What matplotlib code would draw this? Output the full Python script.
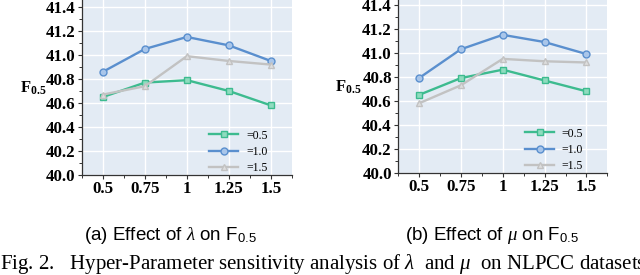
import numpy as np
import matplotlib.pyplot as plt

plt.rcParams['mathtext.fontset'] = 'custom'
plt.rcParams['mathtext.rm'] = 'Liberation Serif'
plt.rcParams['mathtext.it'] = 'Liberation Serif:italic'
plt.rcParams['mathtext.bf'] = 'Liberation Serif:bold'
plt.rcParams['mathtext.sf'] = 'Liberation Sans'

# values
x_labels = ['0.5', '0.75', '1', '1.25', '1.5']
series_names = ['=0.5', '=1.0', '=1.5']

lam_05 = [40.65, 40.77, 40.79, 40.70, 40.58]
lam_10 = [40.86, 41.05, 41.15, 41.08, 40.95]
lam_15 = [40.67, 40.74, 40.99, 40.95, 40.92]

mu_05 = [40.65, 40.79, 40.86, 40.77, 40.68]
mu_10 = [40.79, 41.03, 41.15, 41.09, 40.99]
mu_15 = [40.58, 40.73, 40.95, 40.93, 40.92]

colors = ['#3dbb8f', '#5a8fce', '#c2c2c2']
faces = ['#8fdcbf', '#a9c6ea', '#dedede']
markers = ['s', 'o', '^']

fig = plt.figure(figsize=(6.4, 2.75), dpi=100)
ax1 = fig.add_axes([0.128, 0.3636, 0.328, 0.6364])
ax2 = fig.add_axes([0.622, 0.3709, 0.327, 0.6291])


def draw(ax, data, ytop, lab_x):
    ax.set_facecolor('#e3ebf4')
    xs = np.arange(len(x_labels))
    for vals, c, fc, m, name in zip(data, colors, faces, markers, series_names):
        ax.plot(xs, vals, color=c, lw=1.7, marker=m, ms=5, mfc=fc, mec=c,
                mew=1.0, label=name)
    ax.set_xlim(-0.5, 4.5)
    ax.set_ylim(40.0, ytop)
    yt = np.arange(40.0, 41.41, 0.2)
    ax.set_yticks(yt)
    ax.set_yticks(yt[:-1] + 0.1, minor=True)
    ax.set_xticks(xs)
    ax.set_xticks(np.arange(-0.5, 4.51, 1.0), minor=True)
    ax.set_xticklabels(x_labels)
    ax.set_yticklabels(['%.1f' % v for v in yt])
    ax.grid(True, which='major', color='white', lw=1.0)
    ax.set_axisbelow(True)
    for s in ['top', 'right']:
        ax.spines[s].set_visible(False)
    for s in ['left', 'bottom']:
        ax.spines[s].set_color('#333333')
        ax.spines[s].set_linewidth(0.9)
    ax.tick_params(which='major', direction='out', length=3, width=0.8,
                   color='#333333', pad=1.5)
    ax.tick_params(which='minor', direction='out', length=2, width=0.7,
                   color='#333333')
    for lab in ax.get_xticklabels() + ax.get_yticklabels():
        lab.set_fontfamily('Liberation Serif')
        lab.set_fontweight('bold')
        lab.set_fontsize(12.2)
    ax.set_ylabel(r'$\mathbf{F_{0.5}}$', rotation=0, fontsize=12, ha='right',
                  va='center')
    ax.yaxis.set_label_coords(lab_x, 0.5)
    ax.legend(loc='lower right', frameon=False,
              prop={'family': 'Liberation Serif', 'size': 8.5},
              handlelength=2.45, handletextpad=0.65, labelspacing=0.35,
              borderpad=0.1, borderaxespad=0, bbox_to_anchor=(0.89, 0.0))


draw(ax1, [lam_05, lam_10, lam_15], 41.458, -0.17)
draw(ax2, [mu_05, mu_10, mu_15], 41.44, -0.175)

fig.text(0.266, 0.145, r'(a) Effect of $\lambda$ on F$_{\mathsf{0.5}}$',
         ha='center', va='center', family='Liberation Sans', fontsize=13.5)
fig.text(0.769, 0.145, r'(b) Effect of $\mu$ on F$_{\mathsf{0.5}}$',
         ha='center', va='center', family='Liberation Sans', fontsize=13.5)
fig.text(0.0, 0.04,
         r'Fig. 2.   Hyper-Parameter sensitivity analysis of $\lambda$  and $\mu$  on NLPCC datasets.',
         ha='left', va='center', family='Liberation Serif', fontsize=15)

fig.savefig('out.png', dpi=100)
